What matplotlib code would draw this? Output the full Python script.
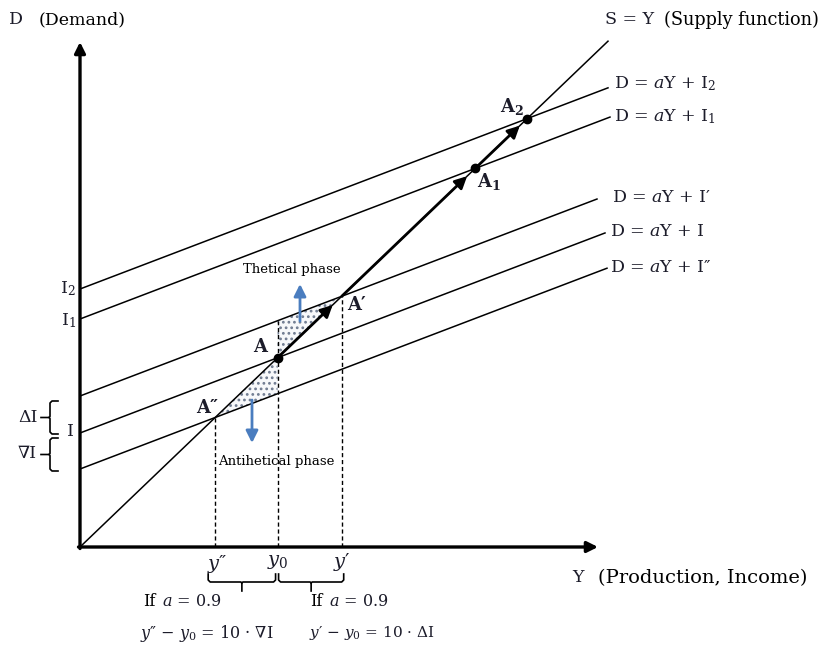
import matplotlib
matplotlib.use("Agg")
import matplotlib.pyplot as plt
import numpy as np

plt.rcParams["font.family"] = ["DejaVu Serif"]
plt.rcParams["mathtext.fontset"] = "dejavuserif"
plt.rcParams["hatch.linewidth"] = 1.2

# ==========================
# DATA (pixel-like units, origin at the axes crossing)
# ==========================
S_SLOPE = 0.958          # S = Y
D_SLOPE = 0.381          # marginal slope "a" of the demand lines
S_END = 528

D_NAMES = ["I2", "I1", "Ip", "I0", "Ipp"]
D_INTERCEPTS = [258, 228, 151, 114, 78]
D_ENDS = [528, 530, 517, 525, 527]
D_LABELS = ["D = $a$Y + I$_2$",
            "D = $a$Y + I$_1$",
            "D = $a$Y + I\u2032",
            "D = $a$Y + I",
            "D = $a$Y + I\u2033"]
D_LABEL_POS = [(534, 463), (534, 430), (532, 350), (530, 315), (530, 279)]

INK = "#1c1c2a"
BLUE = "#4a7dbf"
FS = 12.5


def cross(i):
    # intersection of demand line i with S = Y
    x = D_INTERCEPTS[i] / (S_SLOPE - D_SLOPE)
    return x, S_SLOPE * x


def d_at(i, x):
    return D_INTERCEPTS[i] + D_SLOPE * x


fig = plt.figure(figsize=(8.23, 6.45), dpi=100)
ax = fig.add_axes([0, 0, 1, 1])
ax.set_xlim(-80, 743)
ax.set_ylim(-98, 547)
ax.axis("off")

# axes with arrows
ax.annotate("", xy=(518, 0), xytext=(-1.5, 0),
            arrowprops=dict(arrowstyle="-|>", lw=2.4, color="black", mutation_scale=16,
                            shrinkA=0, shrinkB=0))
ax.annotate("", xy=(0, 505), xytext=(0, -1.5),
            arrowprops=dict(arrowstyle="-|>", lw=2.4, color="black", mutation_scale=16,
                            shrinkA=0, shrinkB=0))

# supply line
ax.plot([0, S_END], [0, S_SLOPE * S_END], color="black", lw=1.1)

# demand lines
for i in range(len(D_NAMES)):
    ax.plot([0, D_ENDS[i]], [d_at(i, 0), d_at(i, D_ENDS[i])], color="black", lw=1.1)
    ax.text(D_LABEL_POS[i][0], D_LABEL_POS[i][1], D_LABELS[i], fontsize=FS,
            color=INK, va="center", ha="left")

xA, yA = cross(3)
xAp, yAp = cross(2)
xApp, yApp = cross(4)
xA1, yA1 = cross(1)
xA2, yA2 = cross(0)

# shaded phases
ax.fill([xA, xA, xAp], [yA, d_at(2, xA), yAp], facecolor="#f7f8fa",
        edgecolor="#6f7b90", hatch="...", lw=0, zorder=1)
ax.fill([xApp, xA, xA], [yApp, yA, d_at(4, xA)], facecolor="#f7f8fa",
        edgecolor="#6f7b90", hatch="...", lw=0, zorder=1)

# dashed verticals
for xv, ytop in [(xApp, yApp), (xA, d_at(2, xA)), (xAp, yAp)]:
    ax.plot([xv, xv], [0, ytop], color="black", lw=1.0, ls=(0, (3, 2)))

# movement arrows along S
for (x0, y0), (x1, y1) in [((xA, yA), (xAp, yAp)), ((xAp, yAp), (xA1, yA1)),
                           ((xA1, yA1), (xA2, yA2))]:
    f = 0.86 if x1 - x0 < 100 else 0.94
    ax.annotate("", xy=(x0 + f * (x1 - x0), y0 + f * (y1 - y0)), xytext=(x0, y0),
                arrowprops=dict(arrowstyle="-|>", lw=2.0, color="black",
                                mutation_scale=18, shrinkA=0, shrinkB=0))

# points
ax.plot([xA, xA1, xA2], [yA, yA1, yA2], "o", color="black", ms=6, zorder=5)

# point labels
ax.text(xA - 10, yA + 11, "A", fontsize=13, color=INK, ha="right", va="center",
        fontweight="bold")
ax.text(xAp + 5, yAp - 9, "A\u2032", fontsize=13, color=INK, ha="left", va="center",
        fontweight="bold")
ax.text(xApp + 3, yApp + 9, "A\u2033", fontsize=13, color=INK, ha="right", va="center",
        fontweight="bold")
ax.text(xA1 + 2, yA1 - 13, "A$_\\mathbf{1}$", fontsize=13, color=INK, ha="left",
        va="center", fontweight="bold")
ax.text(xA2 - 3, yA2 + 12, "A$_\\mathbf{2}$", fontsize=13, color=INK, ha="right",
        va="center", fontweight="bold")

# phase arrows and texts
ax.annotate("", xy=(220, 263), xytext=(220, 226),
            arrowprops=dict(arrowstyle="-|>", lw=2.0, color=BLUE, mutation_scale=18,
                            shrinkA=0, shrinkB=0))
ax.annotate("", xy=(172, 104), xytext=(172, 147),
            arrowprops=dict(arrowstyle="-|>", lw=2.0, color=BLUE, mutation_scale=18,
                            shrinkA=0, shrinkB=0))
ax.text(212, 277, "Thetical phase", fontsize=9.5, ha="center", va="center", color="black")
ax.text(196, 85, "Antihetical phase", fontsize=9.5, ha="center", va="center", color="black")

# axis titles
ax.text(-64, 527, "D", fontsize=FS, color=INK, ha="center", va="center")
ax.text(-41, 527, "(Demand)", fontsize=12.5, ha="left", va="center")
ax.text(498, -31, "Y", fontsize=FS, color=INK, ha="center", va="center")
ax.text(518, -31, "(Production, Income)", fontsize=14, ha="left", va="center")
ax.text(525, 527, "S = Y", fontsize=FS, color=INK, ha="left", va="center")
ax.text(584, 527, "(Supply function)", fontsize=12.8, ha="left", va="center")

# intercept labels on the D axis
ax.text(-4, d_at(0, 0), "I$_2$", fontsize=FS, color=INK, ha="right", va="center")
ax.text(-4, d_at(1, 0) - 2, "I$_1$", fontsize=FS, color=INK, ha="right", va="center")
ax.text(-6, d_at(3, 0) + 2, "I", fontsize=FS, color=INK, ha="right", va="center")
ax.text(-62, 129, "\u0394I", fontsize=FS, color=INK, ha="left", va="center")
ax.text(-62, 94, "\u2207I", fontsize=FS, color=INK, ha="left", va="center")


def vbrace(x, y0, y1):
    ym = (y0 + y1) / 2
    ax.plot([x + 8, x + 2, x, x, x - 1, x - 9], [y1, y1, y1 - 2, ym + 1, ym, ym],
            color="black", lw=1.2)
    ax.plot([x + 8, x + 2, x, x, x - 1], [y0, y0, y0 + 2, ym - 1, ym], color="black", lw=1.2)


def hbrace(x0, x1, y):
    xm = (x0 + x1) / 2
    ax.plot([x0, x0, x0 + 2, xm - 1, xm, xm], [y + 8, y + 2, y, y, y - 1, y - 9],
            color="black", lw=1.2)
    ax.plot([x1, x1, x1 - 2, xm + 1, xm], [y + 8, y + 2, y, y, y - 1], color="black", lw=1.2)


vbrace(-30, 113, 146)
vbrace(-30, 76, 109)
hbrace(xApp - 7, xA - 2, -35)
hbrace(xA + 1, xAp + 2, -35)

# labels under the Y axis
ax.text(xApp + 2, -17, "$y$\u2033", fontsize=14, color=INK, ha="center", va="center")
ax.text(xA, -15, "$y_0$", fontsize=14, color=INK, ha="center", va="center")
ax.text(xAp, -15, "$y$\u2032", fontsize=14, color=INK, ha="center", va="center")

ax.text(63, -54, "If", fontsize=11.5, ha="left", va="center")
ax.text(82, -54, "$a$ = 0.9", fontsize=11.5, color=INK, ha="left", va="center")
ax.text(230, -54, "If", fontsize=11.5, ha="left", va="center")
ax.text(249, -54, "$a$ = 0.9", fontsize=11.5, color=INK, ha="left", va="center")
ax.text(60, -86, "$y$\u2033 \u2212 $y_0$ = 10 \u00b7 \u2207I", fontsize=11.5, color=INK,
        ha="left", va="center")
ax.text(229, -86, "$y$\u2032 \u2212 $y_0$ = 10 \u00b7 \u0394I", fontsize=11, color=INK,
        ha="left", va="center")

fig.savefig("out.png", dpi=100)
